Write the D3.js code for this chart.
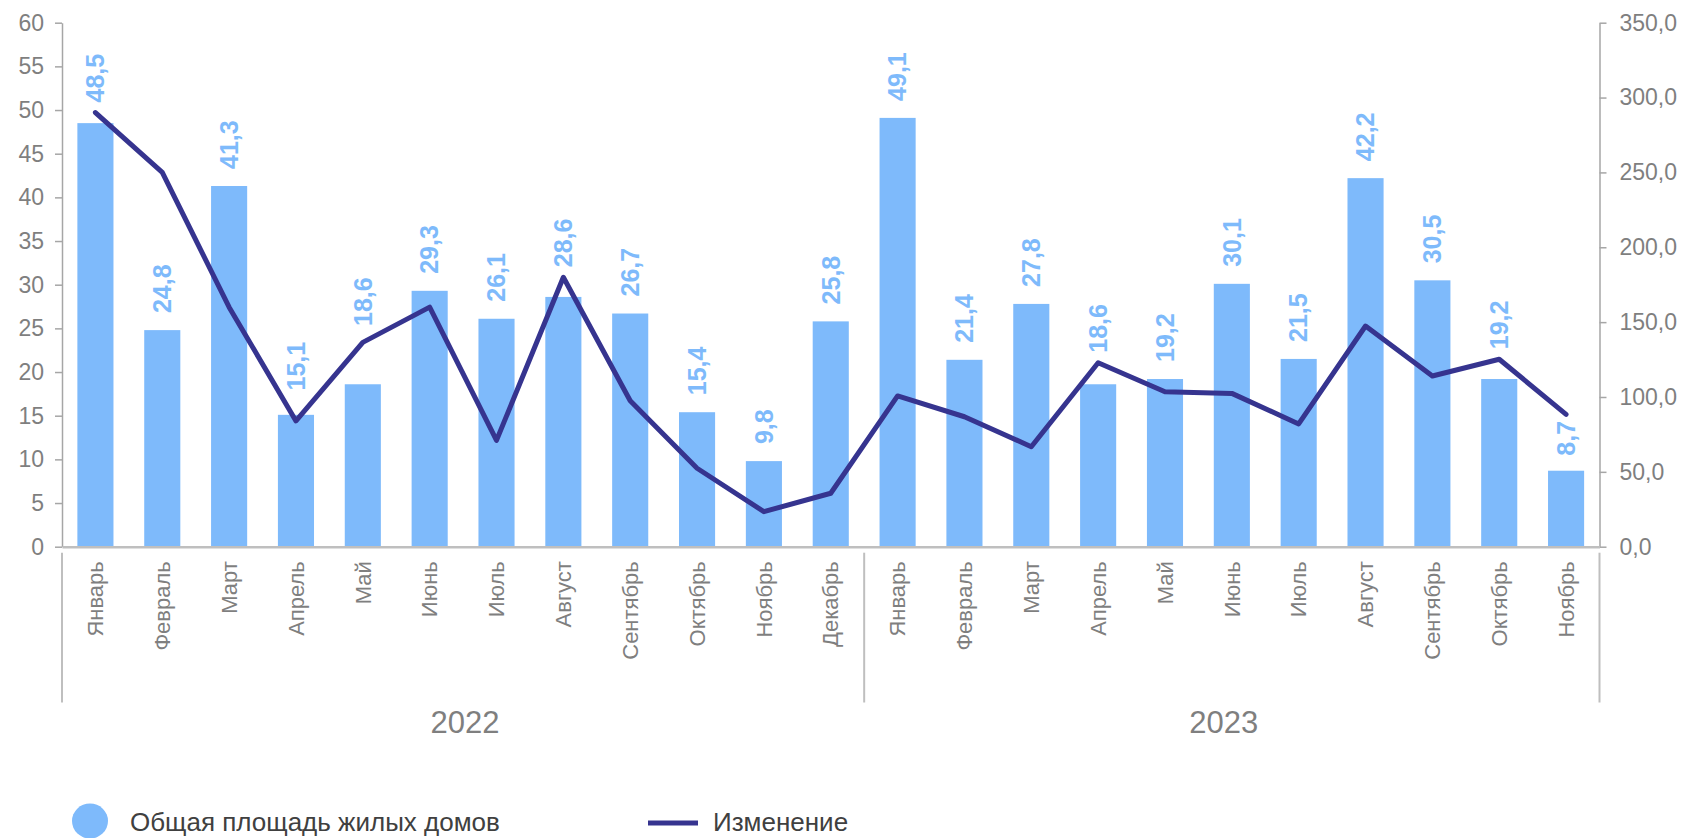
<!DOCTYPE html>
<html>
<head>
<meta charset="utf-8">
<script src="https://cdn.jsdelivr.net/npm/d3@7"></script>
<style>
  html, body { margin: 0; padding: 0; background: #ffffff; }
  svg { display: block; font-family: "Liberation Sans", Arial, sans-serif; }
</style>
</head>
<body>
<svg id="chart" width="1683" height="838"></svg>
<script>
// ---- data ----
const years = ["2022", "2023"];
const months2022 = ["Январь","Февраль","Март","Апрель","Май","Июнь","Июль","Август","Сентябрь","Октябрь","Ноябрь","Декабрь"];
const months2023 = ["Январь","Февраль","Март","Апрель","Май","Июнь","Июль","Август","Сентябрь","Октябрь","Ноябрь"];
const area2022 = [48.5, 24.8, 41.3, 15.1, 18.6, 29.3, 26.1, 28.6, 26.7, 15.4, 9.8, 25.8];
const area2023 = [49.1, 21.4, 27.8, 18.6, 19.2, 30.1, 21.5, 42.2, 30.5, 19.2, 8.7];
const change2022 = [290, 250, 160, 84, 136.5, 160, 71, 180, 97.5, 52.4, 23.4, 35.7];
const change2023 = [100.7, 86.8, 66.8, 122.9, 103.5, 102.4, 82, 147.4, 114, 125.2, 88.4];
const leftTicks = [0, 5, 10, 15, 20, 25, 30, 35, 40, 45, 50, 55, 60];
const rightTicks = [0, 50, 100, 150, 200, 250, 300, 350];
const seriesNames = ["Общая площадь жилых домов", "Изменение"];

// ---- build rows ----
const rows = [];
months2022.forEach((m, i) => rows.push({ key: "2022-" + i, month: m, year: "2022", area: area2022[i], change: change2022[i] }));
months2023.forEach((m, i) => rows.push({ key: "2023-" + i, month: m, year: "2023", area: area2023[i], change: change2023[i] }));

// ---- layout ----
const L = 62, R = 1599.5, T = 22.7, B = 546.7;
const barColor = "#7EBAFB";
const lineColor = "#36348F";
const axisText = "#7f7f7f";
const font = '"Liberation Sans", Arial, sans-serif';

const svg = d3.select("#chart");

const x = d3.scaleBand().domain(rows.map(d => d.key)).range([L, R]).paddingInner(0.46).paddingOuter(0.23);
const yL = d3.scaleLinear().domain([0, 60]).range([B, T]);
const yR = d3.scaleLinear().domain([0, 350]).range([B, T]);
const cx = d => x(d.key) + x.bandwidth() / 2;

// bars
svg.append("g").selectAll("rect").data(rows).join("rect")
  .attr("x", d => x(d.key))
  .attr("y", d => yL(d.area))
  .attr("width", x.bandwidth())
  .attr("height", d => yL(0) - yL(d.area))
  .attr("fill", barColor);

// left axis
const gL = svg.append("g").attr("transform", `translate(${L},0)`)
  .call(d3.axisLeft(yL).tickValues(leftTicks).tickSize(7).tickSizeOuter(0).tickPadding(11).tickFormat(d => String(d)));
gL.select(".domain").attr("stroke", "#a6a6a6").attr("stroke-width", 1.5);
gL.selectAll(".tick line").attr("stroke", "#a6a6a6").attr("stroke-width", 1.5);
gL.selectAll(".tick text").attr("fill", axisText).style("font-size", "23px").style("font-family", font);

// right axis
const gR = svg.append("g").attr("transform", `translate(${R},0)`)
  .call(d3.axisRight(yR).tickValues(rightTicks).tickSize(7).tickSizeOuter(0).tickPadding(13)
    .tickFormat(d => d3.format(".1f")(d).replace(".", ",")));
gR.select(".domain").attr("stroke", "#a6a6a6").attr("stroke-width", 1.5);
gR.selectAll(".tick line").attr("stroke", "#a6a6a6").attr("stroke-width", 1.5);
gR.selectAll(".tick text").attr("fill", axisText).style("font-size", "23px").style("font-family", font);

// bottom axis with rotated month labels
const gB = svg.append("g").attr("transform", `translate(0,${B})`)
  .call(d3.axisBottom(x).tickSize(0).tickSizeOuter(0).tickFormat(k => rows.find(r => r.key === k).month));
gB.select(".domain").attr("stroke", "#bfbfbf").attr("stroke-width", 2.5);
gB.selectAll(".tick text")
  .attr("transform", "rotate(-90)")
  .attr("text-anchor", "end")
  .attr("x", -14.5).attr("y", 0).attr("dy", "0.35em")
  .attr("fill", axisText).style("font-size", "22px").style("font-family", font);

// year group separators and labels
const groupEdges = [L, x(rows[months2022.length].key) - x.step() * x.paddingInner() / 2, R];
svg.append("g").selectAll("line").data(groupEdges).join("line")
  .attr("x1", d => d).attr("x2", d => d)
  .attr("y1", B + 6).attr("y2", 702.5)
  .attr("stroke", "#bfbfbf").attr("stroke-width", 2);
svg.append("g").selectAll("text").data(years).join("text")
  .attr("x", (d, i) => (groupEdges[i] + groupEdges[i + 1]) / 2 + (i === 1 ? -8 : 2))
  .attr("y", 733)
  .attr("text-anchor", "middle")
  .attr("fill", axisText)
  .style("font-size", "31px").style("font-family", font)
  .text(d => d);

// line
const linePts = rows.map(d => [cx(d), yR(d.change)]);
svg.append("path")
  .attr("d", d3.line()(linePts))
  .attr("fill", "none")
  .attr("stroke", lineColor)
  .attr("stroke-width", 5)
  .attr("stroke-linejoin", "round")
  .attr("stroke-linecap", "round");

// line y at a given x (linear between points)
function lineYAt(px) {
  for (let i = 0; i < linePts.length - 1; i++) {
    const [x0, y0] = linePts[i], [x1, y1] = linePts[i + 1];
    if (px >= x0 && px <= x1) return y0 + (y1 - y0) * (px - x0) / (x1 - x0);
  }
  return null;
}
function collides(xa, xb, top, bottom, clear) {
  for (let px = xa - clear; px <= xb + clear; px += 0.5) {
    const ly = lineYAt(px);
    if (ly === null) continue;
    if (ly >= top - clear && ly <= bottom + clear) return true;
  }
  return false;
}

// value labels (rotated, placed above bars, avoiding the line)
const labG = svg.append("g");
rows.forEach(d => {
  const c = cx(d);
  const t = labG.append("text")
    .attr("text-anchor", "start")
    .attr("dy", "0.35em")
    .attr("fill", barColor)
    .style("font-size", "25px").style("font-weight", "bold").style("font-family", font)
    .text(d3.format(".1f")(d.area).replace(".", ","));
  const len = t.node().getComputedTextLength();
  const half = 12;
  const barTop = yL(d.area);
  const clear = 2.5 + 4;
  let bottom = null;
  for (let g = 17; g >= 8; g--) {
    const b = barTop - g;
    if (!collides(c - half, c + half, b - len, b, clear)) { bottom = b; break; }
  }
  if (bottom === null) {
    let minY = Infinity;
    for (let px = c - half; px <= c + half; px += 0.5) {
      const ly = lineYAt(px);
      if (ly !== null) minY = Math.min(minY, ly);
    }
    bottom = minY - 10;
  }
  t.attr("transform", `translate(${c},${bottom}) rotate(-90)`);
});

// legend
const lg = svg.append("g");
lg.append("ellipse").attr("cx", 90).attr("cy", 821).attr("rx", 18).attr("ry", 17.5).attr("fill", barColor);
lg.append("text").attr("x", 130).attr("y", 831).attr("fill", "#404040")
  .style("font-size", "26px").style("font-family", font).text(seriesNames[0]);
lg.append("line").attr("x1", 648).attr("x2", 698).attr("y1", 823).attr("y2", 823)
  .attr("stroke", lineColor).attr("stroke-width", 5);
lg.append("text").attr("x", 713).attr("y", 831).attr("fill", "#404040")
  .style("font-size", "26px").style("font-family", font).text(seriesNames[1]);
</script>
</body>
</html>
